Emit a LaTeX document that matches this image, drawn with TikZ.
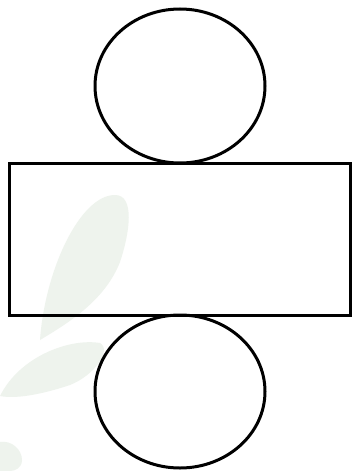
\documentclass[tikz,border=0pt]{standalone}
\definecolor{leaf}{RGB}{238,243,237}
\tikzset{outline/.style={draw=black,line width=3pt},
  leafshape/.style={fill=leaf,draw=none}}
\begin{document}
\begin{tikzpicture}[x=1pt,y=-1pt]
\useasboundingbox[fill=white] (0,0) rectangle (352,471);
% faint watermark leaves
\fill[leafshape] (40,340) .. controls (45,270) and (80,195) .. (115,195) .. controls (135,195) and (130,232) .. (120,262) .. controls (105,300) and (70,322) .. (40,340);
\fill[leafshape] (0,396) .. controls (20,356) and (70,338) .. (100,343) .. controls (112,350) and (95,375) .. (70,385) .. controls (40,395) and (15,399) .. (0,396);
\fill[leafshape] (0,442) .. controls (12,440) and (22,450) .. (22,460) .. controls (22,468) and (15,471) .. (10,471) -- (0,471) -- cycle;
% net of a cylinder
\draw[outline] (180,86) ellipse [x radius=85, y radius=77];
\draw[outline] (9,163) rectangle (350,315);
\draw[outline] (180,391.5) ellipse [x radius=85, y radius=76.5];
\end{tikzpicture}
\end{document}
